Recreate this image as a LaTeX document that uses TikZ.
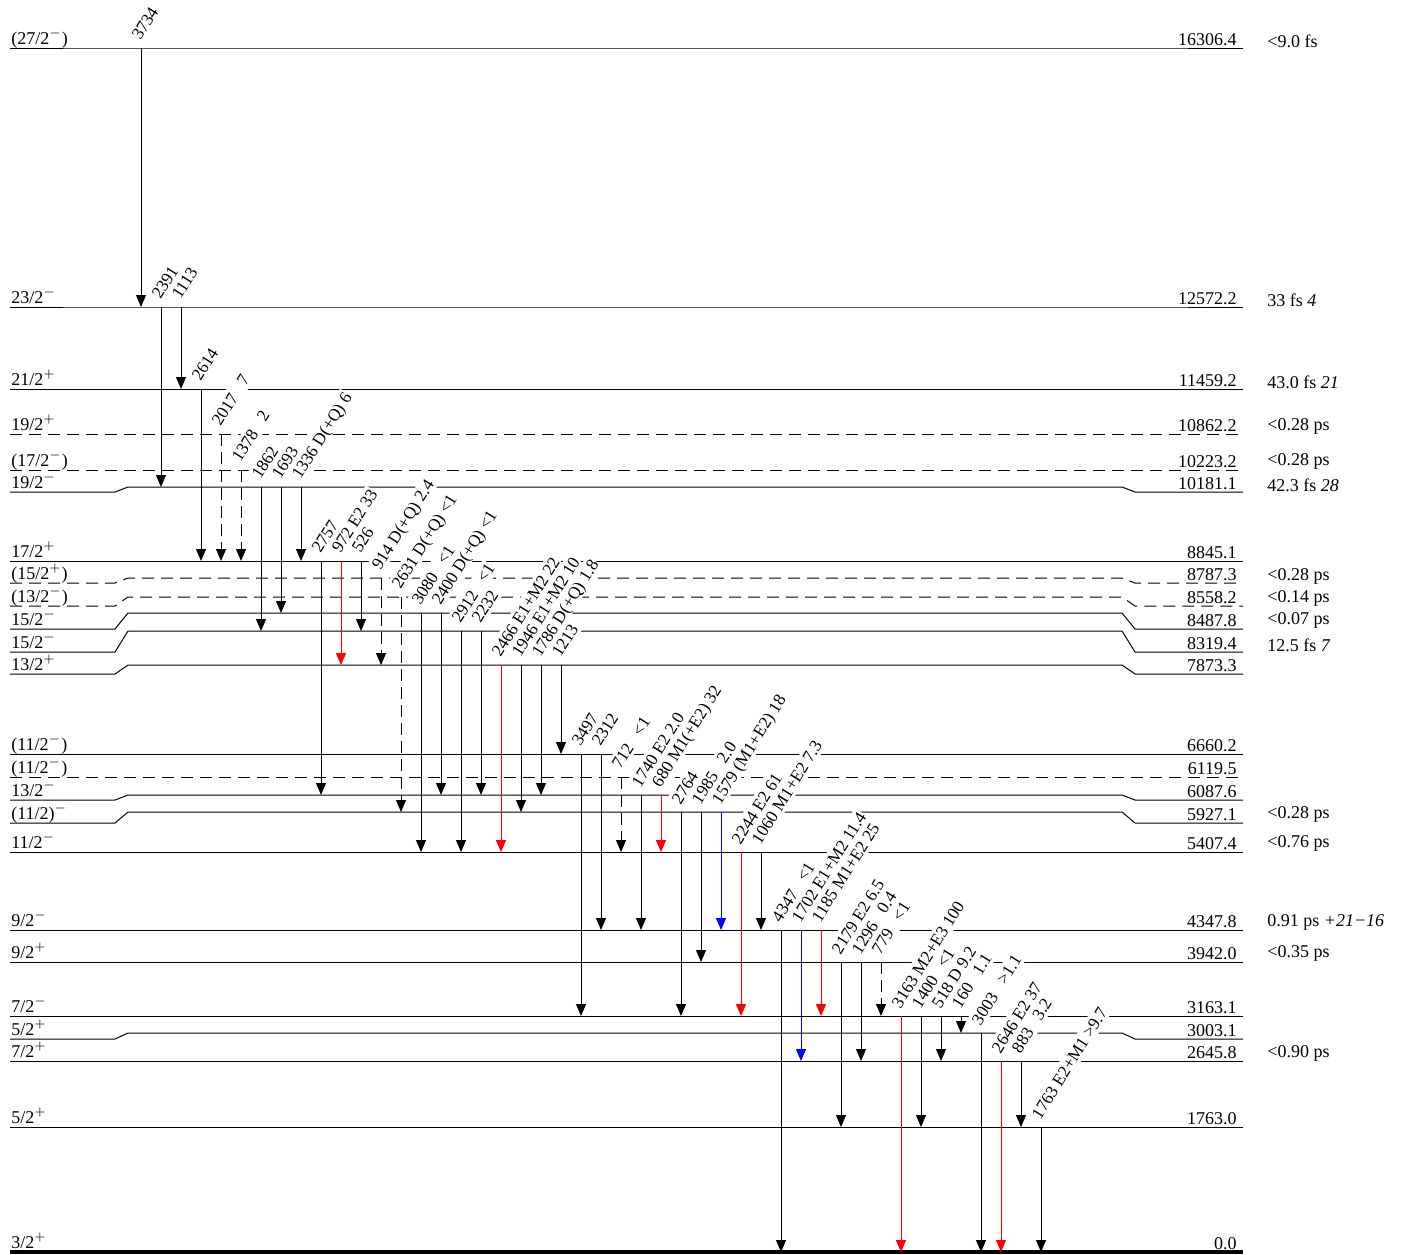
\documentclass[tikz,border=0pt]{standalone}
\usepackage{fontspec}
\setmainfont{Liberation Serif}
\usetikzlibrary{arrows.meta}
\newcommand\mm{$^{-}$}
\newcommand\pp{$^{+}$}
\newcommand\lgap{\enskip\ }
% level: name, mid y, end y, style, spin, energy, lifetime, lifetime baseline y
\newcommand\mklevel[8]{%
  \draw[#4] (10,#3) -- (115,#3) -- (128,#2) -- (1122,#2) -- (1135,#3) -- (1243,#3);
  \coordinate (#1) at (0,#2);
  \node[spinlab] (#1s) at (11,#3) {#5};
  \node[enlab] (#1e) at (1237,#3) {#6};
  \node[lifelab] (#1t) at (1267,#8) {#7};
}
% transition: name, x, from level, to level, style, label
\newcommand\gam[6]{%
  \draw[tline,#5] (#2,0 |- #3) coordinate (#1a) -- (#2,0 |- #4) coordinate (#1b);
  \node[tlab] (#1) at ([shift={(-1,-6)}]#1a) {#6};
}
\begin{document}
\begin{tikzpicture}[x=0.5pt,y=-0.5pt,
  font=\fontsize{9}{10}\selectfont,
  lev/.style={line width=0.5pt},
  levd/.style={line width=0.5pt, dash pattern=on 6pt off 3.5pt},
  levg/.style={line width=1.6pt},
  spinlab/.style={anchor=base west, inner sep=0pt, yshift=2pt},
  enlab/.style={anchor=base east, inner sep=0pt, yshift=1.5pt},
  lifelab/.style={anchor=base west, inner sep=0pt},
  tline/.style={line width=0.5pt, -{Triangle[width=5pt,length=6pt]}},
  tdash/.style={dash pattern=on 6pt off 3pt},
  tlab/.style={rotate=58, anchor=base west, fill=white, inner sep=0.4pt,
    font=\fontsize{8.6}{10}\selectfont, text height=1.55ex, text depth=0.25ex}
]
\fill[white] (0,0) rectangle (1406,1254);
\useasboundingbox (0,0) rectangle (1406,1254);

\mklevel{L16306}{48}{48}{lev}{(27/2\mm)}{16306.4}{<9.0 fs}{47}
\mklevel{L12572}{307}{307}{lev}{23/2\mm}{12572.2}{33 fs \textit{4}}{306}
\mklevel{L11459}{389}{389}{lev}{21/2\pp}{11459.2}{43.0 fs \textit{21}}{388}
\mklevel{L10862}{434}{434}{levd}{19/2\pp}{10862.2}{<0.28 ps}{430}
\mklevel{L10223}{470}{470}{levd}{(17/2\mm)}{10223.2}{<0.28 ps}{465}
\mklevel{L10181}{487}{492}{lev}{19/2\mm}{10181.1}{42.3 fs \textit{28}}{491}
\mklevel{L8845}{561}{561}{lev}{17/2\pp}{8845.1}{}{561}
\mklevel{L8787}{578}{583}{levd}{(15/2\pp)}{8787.3}{<0.28 ps}{580}
\mklevel{L8558}{597}{606}{levd}{(13/2\mm)}{8558.2}{<0.14 ps}{602}
\mklevel{L8487}{613}{629}{lev}{15/2\mm}{8487.8}{<0.07 ps}{624}
\mklevel{L8319}{631}{652}{lev}{15/2\mm}{8319.4}{12.5 fs \textit{7}}{651}
\mklevel{L7873}{665}{674}{lev}{13/2\pp}{7873.3}{}{674}
\mklevel{L6660}{754}{754}{lev}{(11/2\mm)}{6660.2}{}{754}
\mklevel{L6119}{777}{777}{levd}{(11/2\mm)}{6119.5}{}{777}
\mklevel{L6087}{795}{800}{lev}{13/2\mm}{6087.6}{}{800}
\mklevel{L5927}{812}{823}{lev}{(11/2)\mm}{5927.1}{<0.28 ps}{818}
\mklevel{L5407}{852}{852}{lev}{11/2\mm}{5407.4}{<0.76 ps}{847}
\mklevel{L4347}{930}{930}{lev}{9/2\mm}{4347.8}{0.91 ps \textit{+21−16}}{926}
\mklevel{L3942}{962}{962}{lev}{9/2\pp}{3942.0}{<0.35 ps}{957}
\mklevel{L3163}{1016}{1016}{lev}{7/2\mm}{3163.1}{}{1016}
\mklevel{L3003}{1033}{1039}{lev}{5/2\pp}{3003.1}{}{1039}
\mklevel{L2645}{1061}{1061}{lev}{7/2\pp}{2645.8}{<0.90 ps}{1057}
\mklevel{L1763}{1127}{1127}{lev}{5/2\pp}{1763.0}{}{1127}
\mklevel{L0}{1252}{1252}{levg}{3/2\pp}{0.0}{}{1252}

\gam{g3734}{141}{L16306}{L12572}{}{3734}
\gam{g2391}{161}{L12572}{L10181}{}{2391}
\gam{g1113}{181}{L12572}{L11459}{}{1113}
\gam{g2614}{201}{L11459}{L8845}{}{2614}
\gam{g2017}{221}{L10862}{L8845}{tdash}{2017\lgap 7}
\gam{g1378}{241}{L10223}{L8845}{tdash}{1378\lgap 2}
\gam{g1862}{261}{L10181}{L8319}{}{1862}
\gam{g1693}{281}{L10181}{L8487}{}{1693}
\gam{g1336}{301}{L10181}{L8845}{}{1336 D(+Q) 6}
\gam{g2757}{321}{L8845}{L6087}{}{2757}
\gam{g972}{341}{L8845}{L7873}{red}{972 E2 33}
\gam{g526}{361}{L8845}{L8319}{}{526}
\gam{g914}{381}{L8787}{L7873}{tdash}{914 D(+Q) 2.4}
\gam{g2631}{401}{L8558}{L5927}{tdash}{2631 D(+Q) <1}
\gam{g3080}{421}{L8487}{L5407}{}{3080\lgap <1}
\gam{g2400}{441}{L8487}{L6087}{}{2400 D(+Q) <1}
\gam{g2912}{461}{L8319}{L5407}{}{2912\lgap <1}
\gam{g2232}{481}{L8319}{L6087}{}{2232}
\gam{g2466}{501}{L7873}{L5407}{red}{2466 E1+M2 22}
\gam{g1946}{521}{L7873}{L5927}{}{1946 E1+M2 10}
\gam{g1786}{541}{L7873}{L6087}{}{1786 D(+Q) 1.8}
\gam{g1213}{561}{L7873}{L6660}{}{1213}
\gam{g3497}{581}{L6660}{L3163}{}{3497}
\gam{g2312}{601}{L6660}{L4347}{}{2312}
\gam{g712}{621}{L6119}{L5407}{tdash}{712\lgap <1}
\gam{g1740}{641}{L6087}{L4347}{}{1740 E2 2.0}
\gam{g680}{661}{L6087}{L5407}{red}{680 M1(+E2) 32}
\gam{g2764}{681}{L5927}{L3163}{}{2764}
\gam{g1985}{701}{L5927}{L3942}{}{1985\lgap 2.0}
\gam{g1579}{721}{L5927}{L4347}{blue}{1579 (M1+E2) 18}
\gam{g2244}{741}{L5407}{L3163}{red}{2244 E2 61}
\gam{g1060}{761}{L5407}{L4347}{}{1060 M1+E2 7.3}
\gam{g4347}{781}{L4347}{L0}{}{4347\lgap <1}
\gam{g1702}{801}{L4347}{L2645}{blue}{1702 E1+M2 11.4}
\gam{g1185}{821}{L4347}{L3163}{red}{1185 M1+E2 25}
\gam{g2179}{841}{L3942}{L1763}{}{2179 E2 6.5}
\gam{g1296}{861}{L3942}{L2645}{}{1296\lgap 0.4}
\gam{g779}{881}{L3942}{L3163}{tdash}{779\lgap <1}
\gam{g3163}{901}{L3163}{L0}{red}{3163 M2+E3 100}
\gam{g1400}{921}{L3163}{L1763}{}{1400\lgap <1}
\gam{g518}{941}{L3163}{L2645}{}{518 D 9.2}
\gam{g160}{961}{L3163}{L3003}{}{160\lgap 1.1}
\gam{g3003}{981}{L3003}{L0}{}{3003\lgap >1.1}
\gam{g2646}{1001}{L2645}{L0}{red}{2646 E2 37}
\gam{g883}{1021}{L2645}{L1763}{}{883\lgap 3.2}
\gam{g1763}{1041}{L1763}{L0}{}{1763 E2+M1 >9.7}
\end{tikzpicture}
\end{document}
